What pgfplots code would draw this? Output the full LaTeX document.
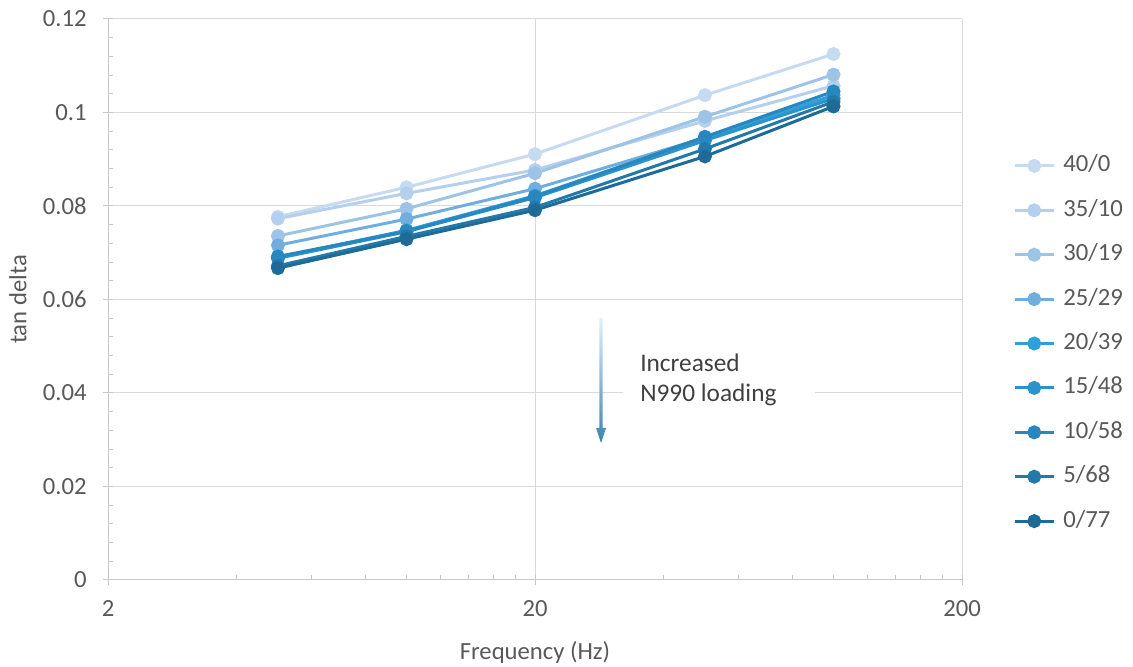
\documentclass[border=0pt]{standalone}
\usepackage{pgfplots}
\pgfplotsset{compat=1.18}
\usepackage{fontspec}
\setmainfont{Carlito}
\definecolor{cA}{HTML}{C6DBEF}
\definecolor{cB}{HTML}{B4D0EC}
\definecolor{cC}{HTML}{9DC3E6}
\definecolor{cD}{HTML}{71AEE0}
\definecolor{cE}{HTML}{2EA0DA}
\definecolor{cF}{HTML}{2993CC}
\definecolor{cG}{HTML}{2887BF}
\definecolor{cH}{HTML}{2479AB}
\definecolor{cI}{HTML}{1F6B98}
\definecolor{gridgray}{HTML}{D9D9D9}
\definecolor{axisgray}{HTML}{C8C8C8}
\definecolor{txtgray}{HTML}{595959}
\definecolor{annot}{HTML}{404040}
\definecolor{arTop}{HTML}{E3F0FA}
\definecolor{arBot}{HTML}{3C82B0}
\begin{document}
\begin{tikzpicture}
\useasboundingbox (0,0) rectangle (849.75pt,500.25pt);
\begin{axis}[
  at={(81pt,65.25pt)}, anchor=south west,
  width=640.5pt, height=420.75pt, scale only axis,
  xmode=log, xmin=2, xmax=200, ymin=0, ymax=0.12,
  xtick={2,20,200}, xticklabels={2,20,200},
  minor xtick={4,6,8,10,12,14,16,18,40,60,80,100,120,140,160,180},
  ytick={0,0.02,0.04,0.06,0.08,0.1,0.12},
  yticklabels={0,0.02,0.04,0.06,0.08,0.1,0.12},
  minor ytick={0.004,0.008,0.012,0.016,0.024,0.028,0.032,0.036,0.044,0.048,0.052,0.056,0.064,0.068,0.072,0.076,0.084,0.088,0.092,0.096,0.104,0.108,0.112,0.116},
  axis lines*=left,
  axis line style={draw=axisgray, line width=0.75pt, -},
  tick style={draw=axisgray, line width=0.75pt},
  tick align=inside,
  major tick length=7.5pt, minor tick length=3.75pt,
  major x tick style={yshift=-3.75pt},
  major y tick style={xshift=-3.75pt},
  xmajorgrids, ymajorgrids,
  major grid style={draw=gridgray, line width=0.75pt},
  ticklabel style={font=\fontsize{18.5}{22}\selectfont, text=txtgray},
  yticklabel style={xshift=-12.5pt},
  xticklabel style={yshift=-11.8pt},
  xlabel={Frequency (Hz)}, ylabel={tan delta},
  every axis x label/.style={at={(axis description cs:0.5,-0.1283)}, anchor=center, font=\fontsize{18.5}{22}\selectfont, text=txtgray},
  every axis y label/.style={at={(axis description cs:-0.1054,0.5)}, rotate=90, anchor=center, font=\fontsize{18.5}{22}\selectfont, text=txtgray},
  every axis plot/.append style={line width=2.25pt, mark=*, mark size=4.1pt, mark options={draw=none}},
  legend image code/.code={\draw[mark repeat=2,mark phase=2] plot coordinates {(0pt,0pt)(14.625pt,0pt)(29.25pt,0pt)};},
  legend cell align=left,
  legend style={at={(1.0597,0.7564)}, anchor=north west, draw=none, fill=none, inner sep=0pt,
    font=\fontsize{18.5}{22}\selectfont, text=txtgray,
    nodes={inner sep=0pt, text height=12pt, text depth=3pt},
    row sep=18.3pt,
    /tikz/every odd column/.append style={column sep=6pt}},
]
\addplot[color=cA] coordinates {(5,0.0777)(10,0.0840)(20,0.0911)(50,0.1037)(100,0.1125)};
\addlegendentry{40/0}
\addplot[color=cB] coordinates {(5,0.0773)(10,0.0827)(20,0.0877)(50,0.0982)(100,0.1057)};
\addlegendentry{35/10}
\addplot[color=cC] coordinates {(5,0.0736)(10,0.0794)(20,0.0870)(50,0.0991)(100,0.1081)};
\addlegendentry{30/19}
\addplot[color=cD] coordinates {(5,0.0716)(10,0.0772)(20,0.0837)(50,0.0946)(100,0.1030)};
\addlegendentry{25/29}
\addplot[color=cE] coordinates {(5,0.0690)(10,0.0748)(20,0.0822)(50,0.0946)(100,0.1037)};
\addlegendentry{20/39}
\addplot[color=cF] coordinates {(5,0.0688)(10,0.0745)(20,0.0818)(50,0.0940)(100,0.1030)};
\addlegendentry{15/48}
\addplot[color=cG] coordinates {(5,0.0692)(10,0.0746)(20,0.0820)(50,0.0948)(100,0.1045)};
\addlegendentry{10/58}
\addplot[color=cH] coordinates {(5,0.0672)(10,0.0735)(20,0.0797)(50,0.0922)(100,0.1023)};
\addlegendentry{5/68}
\addplot[color=cI] coordinates {(5,0.0667)(10,0.0729)(20,0.0791)(50,0.0906)(100,0.1013)};
\addlegendentry{0/77}
\end{axis}
% annotation box and arrow
\fill[white] (467.25pt,185.25pt) rectangle (611.25pt,245.25pt);
\shade[top color=arTop, bottom color=arBot]
  (449.6pt,261.75pt) -- (451.9pt,261.75pt) -- (451.9pt,179.25pt) -- (454.5pt,179.25pt)
  -- (450.75pt,168pt) -- (447pt,179.25pt) -- (449.6pt,179.25pt) -- cycle;
\node[anchor=base west, inner sep=0pt, text=annot, font=\fontsize{19}{25}\selectfont] at (480pt,221.25pt) {Increased};
\node[anchor=base west, inner sep=0pt, text=annot, font=\fontsize{19}{25}\selectfont] at (480pt,198.75pt) {N990 loading};
\end{tikzpicture}
\end{document}
